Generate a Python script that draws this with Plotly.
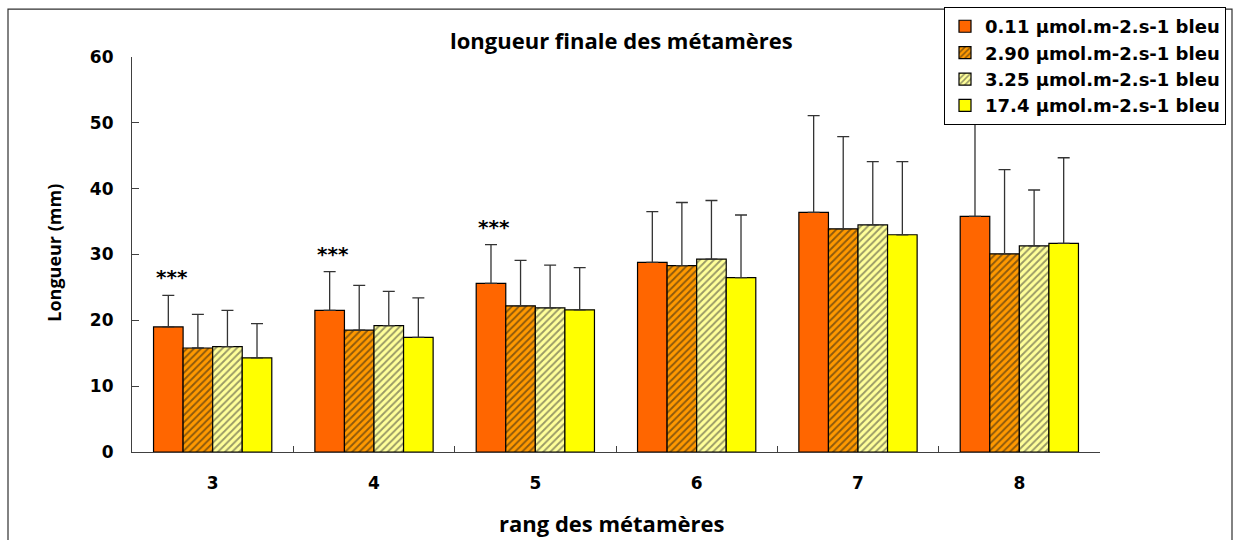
import plotly.graph_objects as go

categories = ["3", "4", "5", "6", "7", "8"]
series_names = [
    "0.11 µmol.m-2.s-1 bleu",
    "2.90 µmol.m-2.s-1 bleu",
    "3.25 µmol.m-2.s-1 bleu",
    "17.4 µmol.m-2.s-1 bleu",
]
mean_011 = [19.0, 21.5, 25.6, 28.8, 36.4, 35.8]
mean_290 = [15.8, 18.5, 22.2, 28.3, 33.9, 30.1]
mean_325 = [16.0, 19.2, 21.9, 29.3, 34.5, 31.3]
mean_174 = [14.3, 17.4, 21.6, 26.5, 33.0, 31.7]
sd_011 = [4.8, 5.9, 5.9, 7.7, 14.7, 20.2]
sd_290 = [5.1, 6.8, 6.9, 9.6, 14.0, 12.8]
sd_325 = [5.5, 5.2, 6.5, 8.9, 9.6, 8.5]
sd_174 = [5.2, 6.0, 6.4, 9.5, 11.1, 13.0]
significance = ["***", "***", "***", "", "", ""]
y_ticks = [0, 10, 20, 30, 40, 50, 60]

W, H = 1237, 540
L, R, T, B = 132, 137, 57, 87.5
PW, PH = W - L - R, H - T - B

def px(x):
    return (x - L) / PW

def py(y):
    return (H - B - y) / PH

styles = [
    dict(color="#FF6600", pattern=None),
    dict(color="#FF9900", pattern=dict(shape="/", fgcolor="#1a1a1a", bgcolor="#FF9900", size=5, solidity=0.38)),
    dict(color="#FFFF99", pattern=dict(shape="/", fgcolor="#333333", bgcolor="#FFFF99", size=5, solidity=0.38)),
    dict(color="#FFFF00", pattern=None),
]
means = [mean_011, mean_290, mean_325, mean_174]
sds = [sd_011, sd_290, sd_325, sd_174]

fig = go.Figure()
for name, m, s, st in zip(series_names, means, sds, styles):
    marker = dict(color=st["color"], line=dict(color="#000000", width=1.2))
    if st["pattern"]:
        marker["pattern"] = st["pattern"]
    fig.add_trace(go.Bar(
        x=categories, y=m, name=name, marker=marker,
        error_y=dict(type="data", array=s, arrayminus=[0] * len(s), symmetric=False,
                     color="#333333", thickness=1.3, width=6),
    ))

annotations = []
for i, (lab, m, s) in enumerate(zip(significance, mean_011, sd_011)):
    if lab:
        annotations.append(dict(x=i - 0.255, y=m + s, text=lab, showarrow=False,
                                xref="x", yref="y", yanchor="bottom", yshift=4,
                                font=dict(family="DejaVu Sans", size=20, color="#000", weight="bold")))

annotations += [
    dict(text="longueur finale des métamères", x=px(621), y=py(40), xref="paper", yref="paper",
         xanchor="center", yanchor="middle",
         showarrow=False, font=dict(family="Open Sans", size=22, color="#000", weight="bold")),
    dict(text="rang des métamères", x=px(611), y=py(524), xref="paper", yref="paper",
         xanchor="center", yanchor="middle",
         showarrow=False, font=dict(family="Open Sans", size=22, color="#000", weight="bold")),
    dict(text="Longueur (mm)", x=px(54), y=py(253), xref="paper", yref="paper", textangle=-90,
         xanchor="center", yanchor="middle",
         showarrow=False, font=dict(family="Open Sans", size=18, color="#000", weight="bold")),
]

fig.update_layout(
    width=W, height=H,
    margin=dict(l=L, r=R, t=T, b=B, pad=0, autoexpand=False),
    paper_bgcolor="white", plot_bgcolor="white",
    barmode="group", bargap=0.267, bargroupgap=0,
    showlegend=True,
    legend=dict(x=px(944), y=py(7), xanchor="left", yanchor="top",
                bgcolor="white", bordercolor="#000", borderwidth=1,
                font=dict(family="DejaVu Sans", size=18, color="#000", weight="bold"),
                traceorder="normal"),
    xaxis=dict(showline=True, linecolor="#404040", linewidth=1.2, ticks="inside", ticklen=6,
               tickcolor="#404040", tickson="boundaries", showgrid=False,
               tickfont=dict(family="DejaVu Sans", size=17, color="#000", weight="bold"),
               ticklabelstandoff=15),
    yaxis=dict(range=[0, 60], tickvals=y_ticks, showline=True, linecolor="#404040", linewidth=1.2,
               ticks="inside", ticklen=7, tickcolor="#404040", showgrid=False, zeroline=False,
               tickfont=dict(family="DejaVu Sans", size=17, color="#000", weight="bold"),
               ticklabelstandoff=14),
    annotations=annotations,
    shapes=[dict(type="rect", xref="paper", yref="paper", x0=px(8), x1=px(1232), y0=py(560), y1=py(9),
                 line=dict(color="#303030", width=1.2), layer="below")],
)

fig.write_html("out.html", config={"displayModeBar": False},
               post_script="document.body.style.margin='0';")
